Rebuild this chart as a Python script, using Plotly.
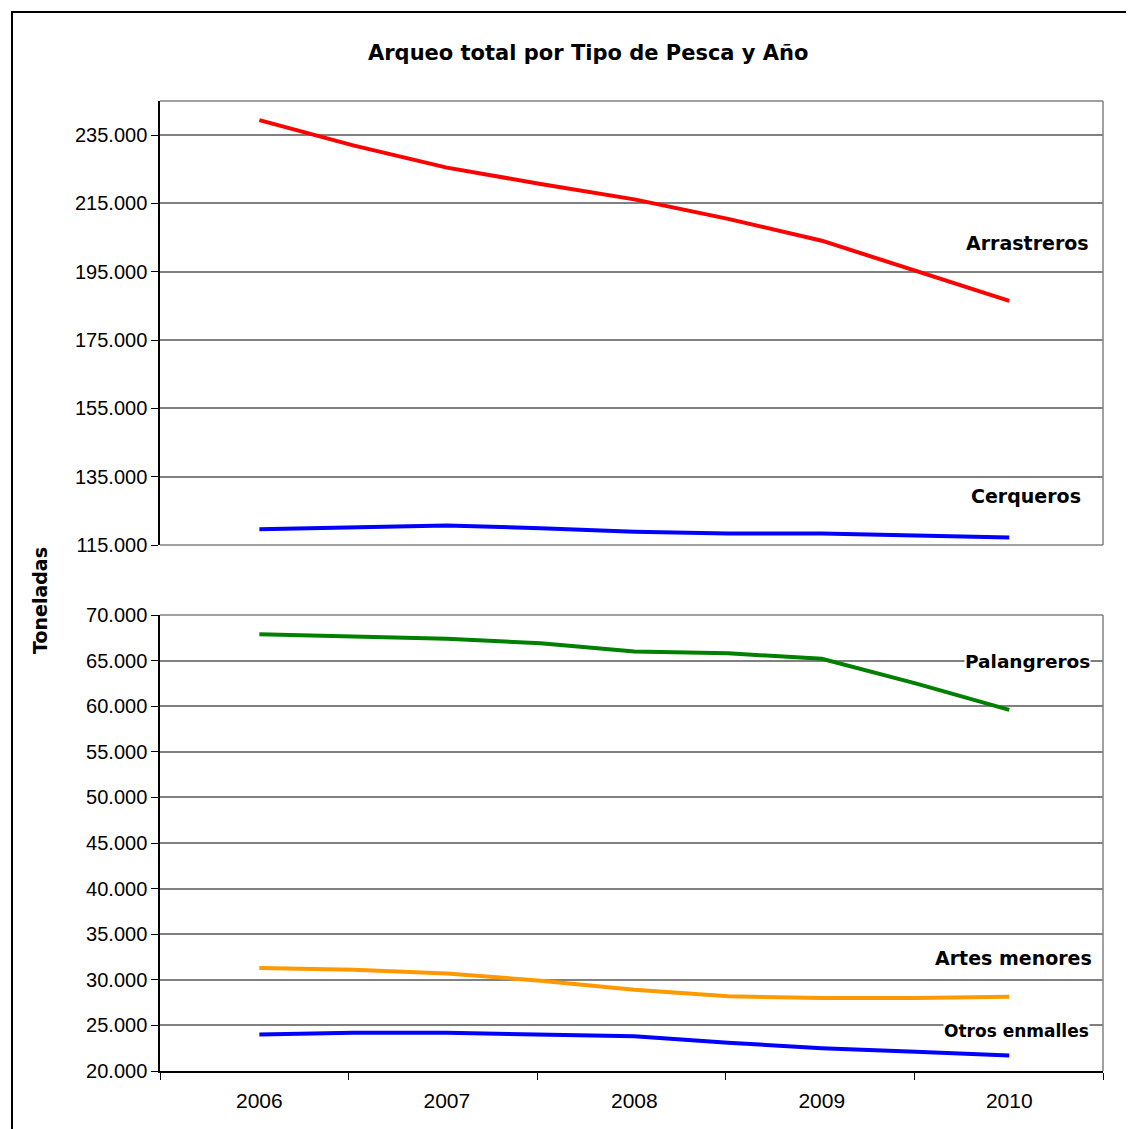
import plotly.graph_objects as go

# ---- data ----
periods = [2006, 2006.5, 2007, 2007.5, 2008, 2008.5, 2009, 2009.5, 2010]
year_labels = ["2006", "2007", "2008", "2009", "2010"]
year_ticks = [2006, 2007, 2008, 2009, 2010]

arrastreros = [239400, 232000, 225500, 220700, 216200, 210500, 204100, 195400, 186500]
cerqueros = [119600, 120100, 120700, 119900, 118900, 118400, 118400, 117800, 117200]
palangreros = [67900, 67700, 67400, 66900, 66000, 65800, 65200, 62500, 59600]
artes_menores = [31300, 31100, 30700, 29900, 28900, 28200, 28000, 28000, 28150]
otros_enmalles = [24000, 24200, 24200, 24000, 23800, 23100, 22500, 22100, 21700]

top_ticks = [115000, 135000, 155000, 175000, 195000, 215000, 235000]
bottom_ticks = [20000, 25000, 30000, 35000, 40000, 45000, 50000, 55000, 60000, 65000, 70000]

# page has an 8px body margin; figure is sized/positioned to compensate
OFF = 8
W, H = 1134 - OFF, 1129 - OFF


def px(x):
    return (x - OFF) / W


def py(y):
    return 1 - (y - OFF) / H


FONT = "Liberation Sans, Arial, sans-serif"
LABEL_FONT = "DejaVu Sans, Liberation Sans, sans-serif"
GRID = "#808080"
LW = 4

fig = go.Figure()

# top panel (x2 / y)
fig.add_trace(go.Scatter(x=periods, y=arrastreros, mode="lines", name="Arrastreros",
                         line=dict(color="#FF0000", width=LW), xaxis="x2", yaxis="y"))
fig.add_trace(go.Scatter(x=periods, y=cerqueros, mode="lines", name="Cerqueros",
                         line=dict(color="#0000FF", width=LW), xaxis="x2", yaxis="y"))
# bottom panel (x / y2)
fig.add_trace(go.Scatter(x=periods, y=palangreros, mode="lines", name="Palangreros",
                         line=dict(color="#008000", width=LW), xaxis="x", yaxis="y2"))
fig.add_trace(go.Scatter(x=periods, y=artes_menores, mode="lines", name="Artes menores",
                         line=dict(color="#FF9900", width=LW), xaxis="x", yaxis="y2"))
fig.add_trace(go.Scatter(x=periods, y=otros_enmalles, mode="lines", name="Otros enmalles",
                         line=dict(color="#0000FF", width=LW), xaxis="x", yaxis="y2"))

xdom = [px(160), px(1103)]
xrange_ = [2005.47, 2010.5]
step = (xrange_[1] - xrange_[0]) / 5
boundaries = [xrange_[0] + i * step for i in range(6)]

fig.update_layout(
    width=W, height=H,
    margin=dict(l=0, r=0, t=0, b=0),
    paper_bgcolor="white", plot_bgcolor="white",
    showlegend=False,
    separators=",.",
    font=dict(family=FONT, size=20, color="black"),
    xaxis=dict(domain=xdom, anchor="y2", range=xrange_, tickmode="array",
               tickvals=year_ticks, ticktext=year_labels, ticks="", showgrid=False,
               zeroline=False, showline=True, linecolor="#000000", linewidth=1.5,
               tickfont=dict(size=21), automargin=False, ticklabelstandoff=10,
               minor=dict(tickmode="array", tickvals=boundaries, ticks="outside",
                          ticklen=7, tickcolor="#000000", tickwidth=1, showgrid=False)),
    xaxis2=dict(domain=xdom, anchor="y", range=xrange_, showticklabels=False, ticks="",
                showgrid=False, zeroline=False, showline=False, automargin=False),
    yaxis=dict(domain=[py(545), py(101)], anchor="x2", range=[115000, 245000],
               tickmode="array", tickvals=top_ticks, tickformat=",d", ticks="outside",
               ticklen=7, tickcolor="#000000", showgrid=True, gridcolor=GRID, gridwidth=1.5,
               zeroline=False, showline=True, linecolor="#000000", linewidth=1.5,
               tickfont=dict(size=20), automargin=False),
    yaxis2=dict(domain=[py(1071), py(615)], anchor="x", range=[20000, 70000],
                tickmode="array", tickvals=bottom_ticks, tickformat=",d", ticks="outside",
                ticklen=7, tickcolor="#000000", showgrid=True, gridcolor=GRID, gridwidth=1.5,
                zeroline=False, showline=True, linecolor="#000000", linewidth=1.5,
                tickfont=dict(size=20), automargin=False),
)

shapes = []
# gray plot-area borders (top, right, bottom of top panel; top, right of bottom panel)
for xref, yref in (("x2 domain", "y domain"), ("x domain", "y2 domain")):
    shapes.append(dict(type="line", xref=xref, yref=yref, x0=0, x1=1, y0=1, y1=1,
                       line=dict(color=GRID, width=1.5)))
    shapes.append(dict(type="line", xref=xref, yref=yref, x0=1, x1=1, y0=0, y1=1,
                       line=dict(color=GRID, width=1.5)))
shapes.append(dict(type="line", xref="x2 domain", yref="y domain", x0=0, x1=1, y0=0, y1=0,
                   line=dict(color=GRID, width=1.5)))
# outer chart frame
shapes.append(dict(type="rect", xref="paper", yref="paper", x0=px(12), x1=px(1150),
                   y0=py(1150), y1=py(12), line=dict(color="#000000", width=2),
                   fillcolor="rgba(0,0,0,0)"))
fig.update_layout(shapes=shapes)

annotations = [
    dict(text="<b>Arqueo total por Tipo de Pesca y Año</b>", x=px(588), y=py(53),
         font=dict(size=21)),
    dict(text="<b>Toneladas</b>", x=px(40), y=py(601), textangle=-90, font=dict(size=19)),
    dict(text="<b>Arrastreros</b>", x=px(1027), y=py(243), font=dict(size=19)),
    dict(text="<b>Cerqueros</b>", x=px(1026), y=py(496), font=dict(size=19)),
    dict(text="<b>Palangreros</b>", x=px(1027), y=py(661), font=dict(size=18.5),
         bgcolor="white", borderpad=0),
    dict(text="<b>Artes menores</b>", x=px(1013), y=py(958), font=dict(size=19)),
    dict(text="<b>Otros enmalles</b>", x=px(1016), y=py(1031), font=dict(size=17),
         bgcolor="white", borderpad=0),
]
for a in annotations:
    a.update(xref="paper", yref="paper", xanchor="center", yanchor="middle", showarrow=False)
    a["font"]["family"] = LABEL_FONT
fig.update_layout(annotations=annotations)

fig.write_html("out.html")
